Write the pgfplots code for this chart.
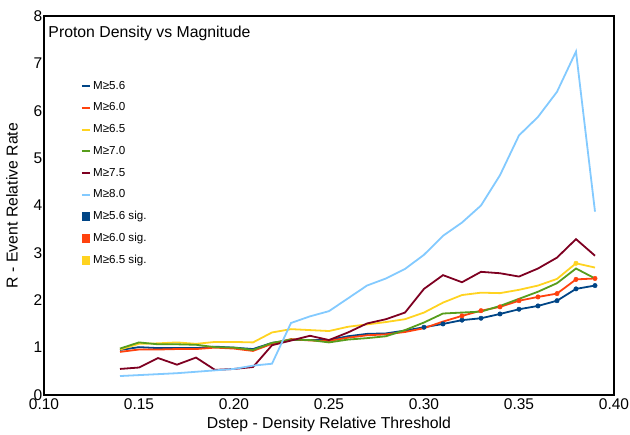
\documentclass[border=0pt]{standalone}
\usepackage{pgfplots}
\usepackage{pgfplotstable}
\pgfplotsset{compat=1.18}
\usepackage{fontspec}
\setmainfont{Liberation Sans}
\definecolor{cA}{HTML}{004586}
\definecolor{cB}{HTML}{FF420E}
\definecolor{cC}{HTML}{FFD320}
\definecolor{cD}{HTML}{579D1C}
\definecolor{cE}{HTML}{7E0021}
\definecolor{cF}{HTML}{83CAFF}
\pgfplotstableread{
x a56 a60 a65 a70 a75 a80
0.14 0.95 0.91 0.96 0.98 0.55 0.40
0.15 1.01 0.96 1.08 1.11 0.58 0.42
0.16 0.99 0.96 1.09 1.07 0.78 0.44
0.17 0.99 0.97 1.11 1.07 0.64 0.46
0.18 0.99 0.97 1.08 1.06 0.79 0.49
0.19 1.02 1.00 1.12 1.01 0.53 0.52
0.20 1.00 0.98 1.12 1.00 0.55 0.55
0.21 0.97 0.93 1.11 0.95 0.59 0.62
0.22 1.10 1.08 1.32 1.10 1.05 0.66
0.23 1.16 1.18 1.39 1.17 1.15 1.52
0.24 1.16 1.15 1.37 1.16 1.25 1.66
0.25 1.16 1.14 1.35 1.11 1.16 1.77
0.26 1.24 1.21 1.44 1.17 1.32 2.04
0.27 1.29 1.26 1.49 1.20 1.51 2.31
0.28 1.30 1.28 1.54 1.24 1.60 2.46
0.29 1.36 1.33 1.60 1.37 1.74 2.66
0.30 1.43 1.41 1.74 1.53 2.24 2.96
0.31 1.50 1.55 1.95 1.72 2.53 3.36
0.32 1.58 1.67 2.11 1.74 2.38 3.64
0.33 1.62 1.78 2.16 1.76 2.60 4.00
0.34 1.71 1.86 2.15 1.88 2.57 4.64
0.35 1.81 1.99 2.22 2.03 2.50 5.48
0.36 1.88 2.07 2.31 2.18 2.67 5.87
0.37 1.99 2.14 2.45 2.36 2.90 6.40
0.38 2.24 2.44 2.78 2.67 3.29 7.25
0.39 2.31 2.46 2.69 2.46 2.94 3.87
}\datatable
\begin{document}
\begin{tikzpicture}
\path[use as bounding box] (0,0) rectangle (630pt,435pt);
\begin{axis}[
  at={(44pt,40pt)}, anchor=south west,
  width=570pt, height=379pt, scale only axis,
  xmin=0.10, xmax=0.40, ymin=0, ymax=8,
  xtick={0.10,0.15,0.20,0.25,0.30,0.35,0.40},
  ytick={0,1,2,3,4,5,6,7,8},
  major tick length=0pt,
  axis line style={line width=1.2pt, black},
  tick label style={font=\fontsize{15.5}{18}\selectfont, /pgf/number format/assume math mode=true},
  xticklabel style={/pgf/number format/fixed, /pgf/number format/fixed zerofill, /pgf/number format/precision=2},
  yticklabel style={inner sep=1.5pt},
  xlabel={Dstep - Density Relative Threshold},
  ylabel={R - Event Relative Rate},
  label style={font=\fontsize{15.8}{18}\selectfont},
  xlabel style={at={(axis description cs:0.5,-0.0765)}, anchor=center},
  ylabel style={at={(axis description cs:-0.0561,0.5)}, anchor=center},
  legend style={at={(rel axis cs:0.0649,0.8298)}, anchor=north west, draw=none, fill=none,
    inner sep=0pt, outer sep=0pt, font=\fontsize{11.6}{13}\selectfont, row sep=10.75pt,
    nodes={inner sep=0pt, text height=8.5pt, text depth=2.5pt},
    /tikz/every odd column/.append style={column sep=2.5pt}},
  legend cell align=left,
  legend image code/.code={\draw[#1, line width=2pt] (0pt,0pt) -- (7.6pt,0pt);},
  every axis plot/.append style={line width=1.8pt, no markers},
]
\node[anchor=base west, inner sep=0pt, font=\fontsize{15.8}{18}\selectfont] at (rel axis cs:0.0075,0.9438) {Proton Density vs Magnitude};
\addplot[cA] table[x=x, y=a56] {\datatable};
\addlegendentry{M≥5.6}
\addplot[cB] table[x=x, y=a60] {\datatable};
\addlegendentry{M≥6.0}
\addplot[cC] table[x=x, y=a65] {\datatable};
\addlegendentry{M≥6.5}
\addplot[cD] table[x=x, y=a70] {\datatable};
\addlegendentry{M≥7.0}
\addplot[cE] table[x=x, y=a75] {\datatable};
\addlegendentry{M≥7.5}
\addplot[cF] table[x=x, y=a80] {\datatable};
\addlegendentry{M≥8.0}
\addplot[cA, only marks, mark=square*, mark size=2.2pt, line width=0.5pt,
  legend image code/.code={\fill[cA] (0pt,-3.8pt) rectangle (7.6pt,3.8pt);}]
  coordinates {(0.30,1.43) (0.31,1.50) (0.32,1.58) (0.33,1.62) (0.34,1.71) (0.35,1.81) (0.36,1.88) (0.37,1.99) (0.38,2.24) (0.39,2.31)};
\addlegendentry{M≥5.6 sig.}
\addplot[cB, only marks, mark=square*, mark size=2.2pt, line width=0.5pt,
  legend image code/.code={\fill[cB] (0pt,-3.8pt) rectangle (7.6pt,3.8pt);}]
  coordinates {(0.32,1.67) (0.33,1.78) (0.34,1.86) (0.35,1.99) (0.36,2.07) (0.37,2.14) (0.38,2.44) (0.39,2.46)};
\addlegendentry{M≥6.0 sig.}
\addplot[cC, only marks, mark=square*, mark size=2.2pt, line width=0.5pt,
  legend image code/.code={\fill[cC] (0pt,-3.8pt) rectangle (7.6pt,3.8pt);}]
  coordinates {(0.38,2.78)};
\addlegendentry{M≥6.5 sig.}
\end{axis}
\end{tikzpicture}
\end{document}
